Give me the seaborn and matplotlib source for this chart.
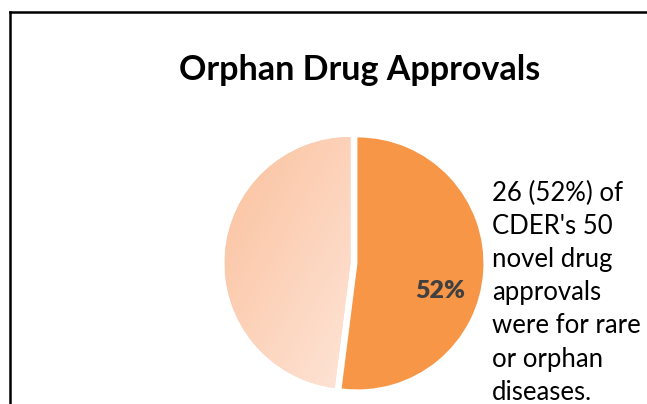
import numpy as np
import matplotlib
matplotlib.use("Agg")
import matplotlib.pyplot as plt
import seaborn as sns
from matplotlib.lines import Line2D
from matplotlib.colors import LinearSegmentedColormap

# ---- data ----
categories = ["Orphan drugs", "Other novel drugs"]
values = [26, 24]
slice_colors = ["#F79646", "#FDD5BC"]
title_text = "Orphan Drug Approvals"
note_text = "26 (52%) of\nCDER's 50\nnovel drug\napprovals\nwere for rare\nor orphan\ndiseases."

sns.set_theme(style="white")
plt.rcParams["font.family"] = ["Lato", "DejaVu Sans"]

W, H = 647, 404
fig = plt.figure(figsize=(W / 100, H / 100), dpi=100)
fig.patch.set_facecolor("white")

# frame (chart area border)
lw = 1.8
fig.add_artist(Line2D([10 / W, 10 / W], [-0.05, 1 - 11.5 / H], transform=fig.transFigure,
                      color="black", lw=lw, solid_capstyle="projecting"))
fig.add_artist(Line2D([10 / W, 1.05], [1 - 11.5 / H, 1 - 11.5 / H], transform=fig.transFigure,
                      color="black", lw=lw, solid_capstyle="projecting"))

# pie axes: radius 1 -> 126 px, center at (350.5, 263) from top-left
R = 126
half = 130
cx, cy = 350.5, H - 263
ax = fig.add_axes([(cx - half) / W, (cy - half) / H, 2 * half / W, 2 * half / H])
lim = half / R

wedges, texts, autotexts = ax.pie(
    values, colors=slice_colors, startangle=90, counterclock=False,
    explode=[0.055, 0], radius=1.0, center=(0, 0),
    autopct=lambda p: f"{p:.0f}%" if p > 50 else "",
    pctdistance=0.7, wedgeprops=dict(linewidth=0), frame=False,
)

# gradient fill for the light slice (darker top-left -> lighter bottom-right)
cmap = LinearSegmentedColormap.from_list("peach", ["#FBC19D", "#FEE6DA"])
n = 256
xx, yy = np.meshgrid(np.linspace(0, 1, n), np.linspace(0, 1, n))
grad = (xx + (1 - yy)) / 2  # origin lower: yy=1 is top
img = ax.imshow(grad, cmap=cmap, vmin=0, vmax=1, origin="lower",
                extent=(-1.0, 0.1, -1.0, 1.0), zorder=3, interpolation="bilinear",
                aspect="auto")
img.set_clip_path(wedges[1])

ax.set_xlim(-lim, lim)
ax.set_ylim(-lim, lim)
ax.set_aspect("equal")
ax.axis("off")

for t in autotexts:
    if t.get_text():
        t.set_position((0.71, -0.22))
        t.set_fontsize(18)
        t.set_fontweight("heavy")
        t.set_color("#404040")
        t.set_zorder(10)

# title
fig.text(360 / W, 1 - 80 / H, title_text, ha="center", va="baseline",
         fontsize=24.5, fontweight="bold", color="black")

# note text
fig.text(492 / W, 1 - 181 / H, note_text, ha="left", va="top",
         fontsize=18.5, color="black", linespacing=1.405)

fig.savefig("out.png", dpi=100, facecolor="white")
